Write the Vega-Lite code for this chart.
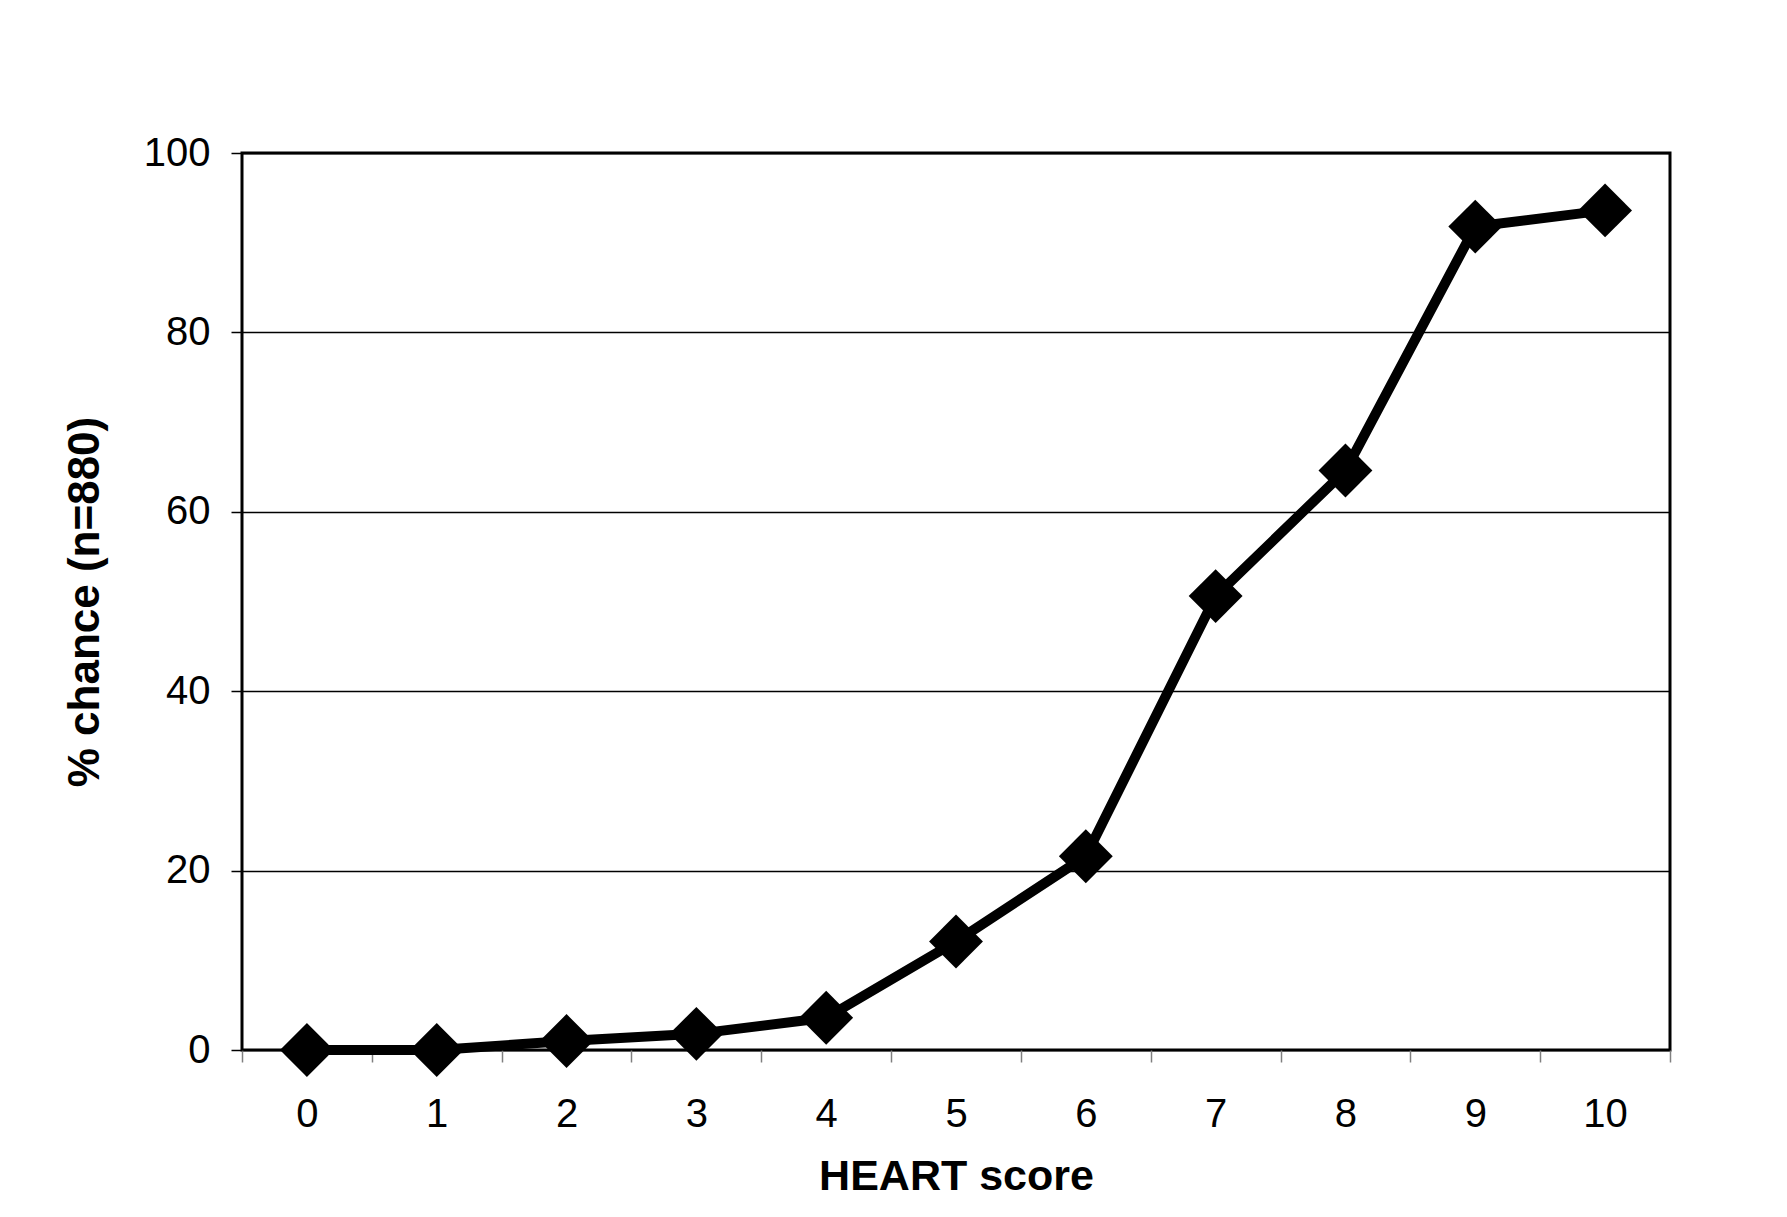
{
  "$schema": "https://vega.github.io/schema/vega-lite/v6.json",
  "width": 1428,
  "height": 897,
  "autosize": {"type": "none"},
  "padding": {"left": 242, "top": 153, "right": 117, "bottom": 167},
  "background": "white",
  "config": {
    "font": "Liberation Sans",
    "view": {"stroke": "black", "strokeWidth": 3, "fill": "white"}
  },
  "data": {
    "values": [
      {"score": "0", "pct": 0},
      {"score": "1", "pct": 0},
      {"score": "2", "pct": 1.0},
      {"score": "3", "pct": 1.8},
      {"score": "4", "pct": 3.6},
      {"score": "5", "pct": 12.1},
      {"score": "6", "pct": 21.6},
      {"score": "7", "pct": 50.6},
      {"score": "8", "pct": 64.6},
      {"score": "9", "pct": 91.8},
      {"score": "10", "pct": 93.6}
    ]
  },
  "encoding": {
    "x": {
      "field": "score",
      "type": "ordinal",
      "sort": null,
      "scale": {"type": "band", "paddingInner": 0, "paddingOuter": 0},
      "axis": {
        "title": "HEART score",
        "titleFont": "Liberation Sans",
        "titleFontSize": 43,
        "titleFontWeight": "bold",
        "titleColor": "black",
        "titlePadding": 21,
        "labelFont": "Liberation Sans",
        "labelFontSize": 40,
        "labelColor": "black",
        "labelAngle": 0,
        "labelPadding": 32,
        "tickBand": "extent",
        "tickColor": "#808080",
        "tickSize": 12,
        "tickWidth": 1.5,
        "domain": false,
        "grid": false
      }
    },
    "y": {
      "field": "pct",
      "type": "quantitative",
      "scale": {"domain": [0, 100], "nice": false, "zero": true},
      "axis": {
        "title": "% chance (n=880)",
        "titleFont": "Liberation Sans",
        "titleFontSize": 44,
        "titleFontWeight": "bold",
        "titleColor": "black",
        "titlePadding": 36,
        "labelFont": "Liberation Sans",
        "labelFontSize": 40,
        "labelColor": "black",
        "labelPadding": 21,
        "values": [0, 20, 40, 60, 80, 100],
        "tickColor": "black",
        "tickSize": 11,
        "tickWidth": 1.5,
        "domain": false,
        "grid": true,
        "gridColor": "black",
        "gridWidth": 1.3,
        "gridOpacity": 1
      }
    }
  },
  "layer": [
    {"mark": {"type": "line", "color": "black", "strokeWidth": 10, "strokeJoin": "round"}},
    {"mark": {"type": "point", "shape": "diamond", "filled": true, "color": "black", "opacity": 1, "size": 2900}}
  ]
}
